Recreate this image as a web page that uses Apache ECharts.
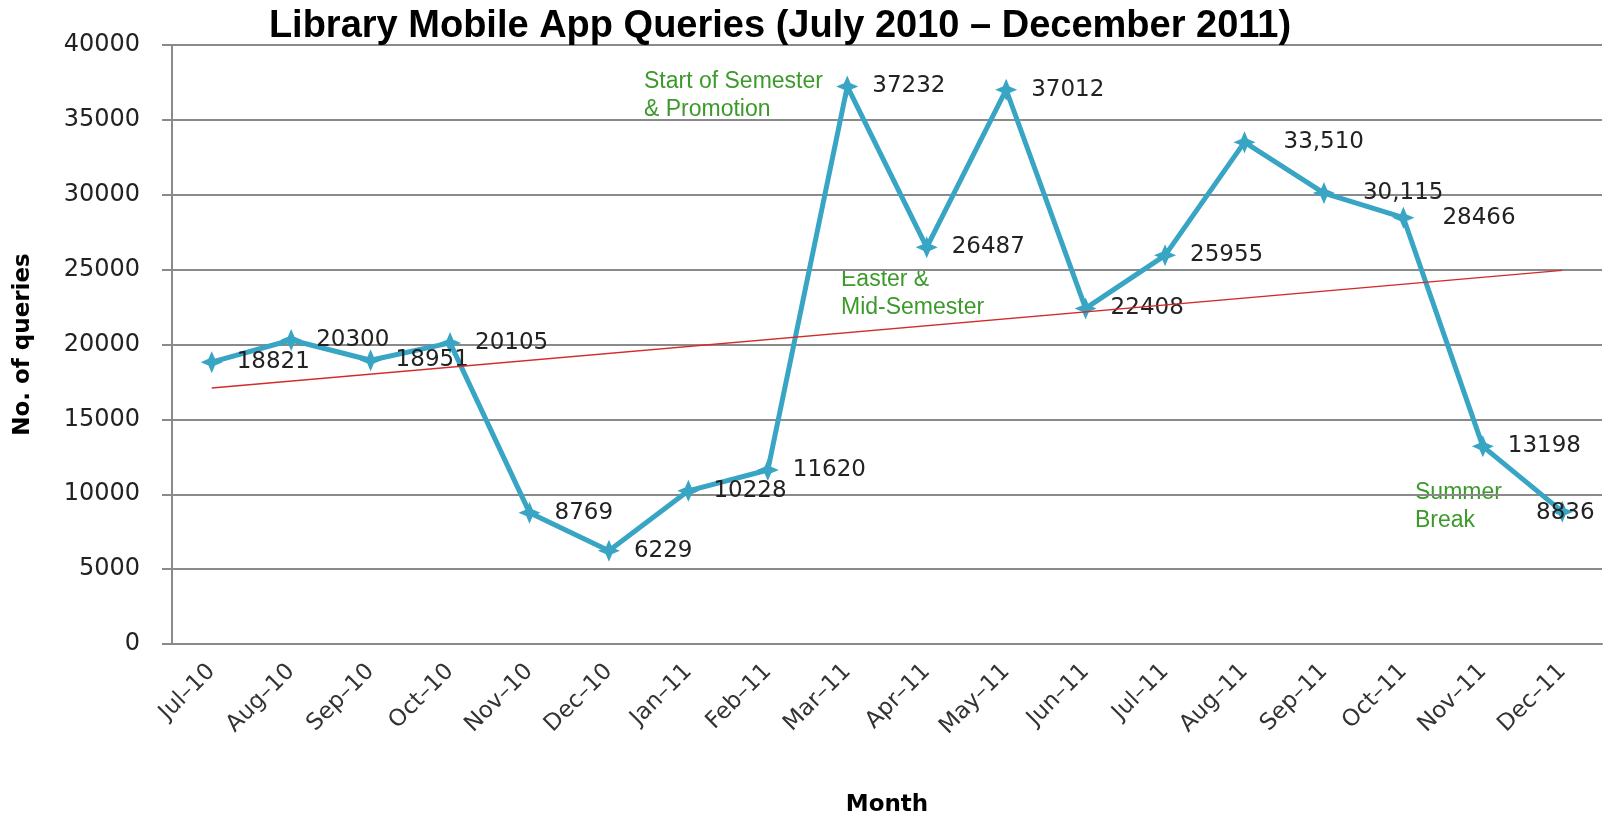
<!DOCTYPE html>
<html>
<head>
<meta charset="utf-8">
<script src="https://cdn.jsdelivr.net/npm/echarts@6/dist/echarts.min.js"></script>
<style>
  html, body { margin: 0; padding: 0; background: #fff; }
  #chart { width: 1607px; height: 822px; }
</style>
</head>
<body>
<div id="chart"></div>
<script>
// months on the x axis
const months = ['Jul–10', 'Aug–10', 'Sep–10', 'Oct–10', 'Nov–10', 'Dec–10',
  'Jan–11', 'Feb–11', 'Mar–11', 'Apr–11', 'May–11', 'Jun–11',
  'Jul–11', 'Aug–11', 'Sep–11', 'Oct–11', 'Nov–11', 'Dec–11'];

// number of queries per month
const queries = [18821, 20300, 18951, 20105, 8769, 6229, 10228, 11620, 37232,
  26487, 37012, 22408, 25955, 33510, 30115, 28466, 13198, 8836];

// label text as printed on the chart (some have thousands separators)
const labelText = ['18821', '20300', '18951', '20105', '8769', '6229', '10228', '11620', '37232',
  '26487', '37012', '22408', '25955', '33,510', '30,115', '28466', '13198', '8836'];

// trend line, value at first and last month
const trend = [17100, 24950];

// green notes
const notes = ['Start of Semester\n& Promotion', 'Easter &\nMid-Semester', 'Summer\nBreak'];

const myChart = echarts.init(document.getElementById('chart'));

const numFont = '"DejaVu Sans", Verdana, sans-serif';
const teal = '#37a5c3';
const star = 'path://M10,0 L13,7 L20,10 L13,13 L10,20 L7,13 L0,10 L7,7 Z';

const points = queries.map((v, i) => {
  const item = { value: v };
  if (i >= 13 && i <= 15) item.label = { distance: 28 };
  if (i === 17) item.label = { position: 'inside', offset: [3, 1] };
  return item;
});

const noteStyle = {
  fill: '#3c9a2a',
  font: '23px "Liberation Sans", Arial, sans-serif',
  lineHeight: 28
};

let option = {
  animation: false,
  title: {
    text: 'Library Mobile App Queries (July 2010 – December 2011)',
    left: 775,
    textAlign: 'center',
    top: 3,
    textStyle: {
      fontFamily: '"Liberation Sans Narrow", "Liberation Sans", sans-serif',
      fontSize: 38,
      fontWeight: 'bold',
      color: '#000'
    }
  },
  grid: { left: 172, right: 5, top: 45, bottom: 164 },
  xAxis: {
    type: 'category',
    data: months,
    boundaryGap: true,
    name: 'Month',
    nameLocation: 'middle',
    nameGap: 150,
    nameTextStyle: { fontFamily: numFont, fontSize: 23, fontWeight: 'bold', color: '#000' },
    axisLine: { lineStyle: { color: '#8a8a8a', width: 2 } },
    axisTick: { length: 10, lineStyle: { color: '#8a8a8a', width: 2 } },
    axisLabel: {
      rotate: 45,
      margin: 24,
      fontFamily: numFont,
      fontSize: 23,
      color: '#333'
    }
  },
  yAxis: {
    type: 'value',
    min: 0,
    max: 40000,
    interval: 5000,
    name: 'No. of queries',
    nameLocation: 'middle',
    nameGap: 137,
    nameTextStyle: { fontFamily: numFont, fontSize: 23, fontWeight: 'bold', color: '#000' },
    axisLine: { show: true, lineStyle: { color: '#8a8a8a', width: 2 } },
    axisTick: { show: true, length: 10, lineStyle: { color: '#8a8a8a', width: 2 } },
    splitLine: { lineStyle: { color: '#8a8a8a', width: 2 } },
    axisLabel: {
      margin: 32,
      formatter: v => String(v),
      fontFamily: numFont,
      fontSize: 24,
      color: '#222'
    }
  },
  series: [
    {
      type: 'line',
      data: points,
      symbol: star,
      symbolSize: 22,
      lineStyle: { color: teal, width: 5 },
      itemStyle: { color: teal },
      label: {
        show: true,
        position: 'right',
        distance: 14,
        fontFamily: numFont,
        fontSize: 23,
        color: '#222',
        formatter: p => labelText[p.dataIndex]
      },
      markLine: {
        silent: true,
        symbol: 'none',
        label: { show: false },
        lineStyle: { color: '#d42a2a', width: 1.5, type: 'solid' },
        data: [[
          { coord: [0, trend[0]] },
          { coord: [months.length - 1, trend[1]] }
        ]]
      },
      z: 3
    }
  ],
  graphic: [
    { type: 'text', left: 644, top: 68, style: Object.assign({ text: notes[0] }, noteStyle) },
    { type: 'text', left: 841, top: 266, style: Object.assign({ text: notes[1] }, noteStyle) },
    { type: 'text', left: 1415, top: 479, style: Object.assign({ text: notes[2] }, noteStyle) }
  ]
};

myChart.setOption(option);
</script>
</body>
</html>
